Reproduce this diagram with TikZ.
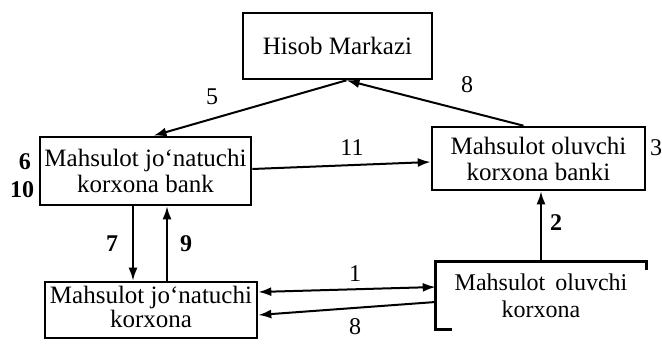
\documentclass[tikz,border=0pt]{standalone}
\usepackage{fontspec}
\setmainfont{Liberation Serif}
\usetikzlibrary{arrows.meta,calc}
\begin{document}
\begin{tikzpicture}[x=1pt,y=-1pt,
  box/.style={draw,line width=2.6pt,inner sep=0pt,align=center,
    font=\fontsize{25}{26}\selectfont},
  arr/.style={line width=2pt,-{Latex[length=13pt,width=9pt]}},
  darr/.style={line width=2pt,{Latex[length=13pt,width=9pt]}-{Latex[length=13pt,width=9pt]}},
  num/.style={inner sep=0pt,font=\fontsize{24}{24}\selectfont},
  bnum/.style={inner sep=0pt,font=\fontsize{24}{24}\selectfont\bfseries}]
\useasboundingbox (0,0) rectangle (662,344);
% boxes
\node[box,minimum width=189pt,minimum height=66pt] (hisob) at (337.5,46) {Hisob Markazi};
\node[box,minimum width=211pt,minimum height=68pt] (lbank) at (145.5,171) {Mahsulot jo‘natuchi\\korxona bank};
\node[box,minimum width=213pt,minimum height=63pt] (rbank) at (538.5,158.5) {Mahsulot oluvchi\\korxona banki};
\node[box,minimum width=212pt,minimum height=56pt] (lcorp) at (151,310) {\raisebox{5pt}{\begin{tabular}{@{}c@{}}Mahsulot jo‘natuchi\\[-2pt]korxona\end{tabular}}};
\node[box,draw=none,font=\fontsize{24}{27}\selectfont,minimum width=208pt,minimum height=65pt] (rcorp) at (541,295.5) {Mahsulot\, oluvchi\\korxona};
% partial frame of the bottom-right box
\draw[line width=2.6pt] ($(rcorp.north east)+(0,8)$) -- (rcorp.north east) -- (rcorp.north west) -- (rcorp.south west) -- ++(16,0);
% connectors
\draw[arr] ($(hisob.south)+(9,0)$) -- ($(lbank.north)+(8,0)$);
\draw[arr] ($(rbank.north)+(-15,0)$) -- ($(hisob.south)+(9,0)$);
\draw[arr] ($(lbank.east)+(0,-2)$) -- ($(rbank.west)+(0,3.5)$);
\coordinate (s7) at ($(lbank.south)+(-12.5,0)$);
\coordinate (s9) at ($(lbank.south)+(21.5,0)$);
\draw[arr] (s7) -- (s7 |- lcorp.north);
\draw[arr] (s9 |- lcorp.north) -- (s9);
\draw[arr] (rcorp.north) -- (rcorp.north |- rbank.south);
\draw[darr] ($(lcorp.east)+(0,-18)$) -- ($(rcorp.west)+(0,-8.5)$);
\draw[arr] ($(rcorp.west)+(0,6.5)$) -- ($(lcorp.east)+(0,5)$);
% labels
\node[num] (l5) at (212,97) {5};
\node[num] (l8a) at (467,85) {8};
\node[num] (l11) at (352,148) {11};
\node[bnum] (l6) at (25,162) {6};
\node[bnum] (l10) at (22,190) {10};
\node[num] (l3) at (656,148) {3};
\node[bnum] (l7) at (112,244) {7};
\node[bnum] (l9) at (186,244) {9};
\node[bnum] (l2) at (556,223) {2};
\node[num] (l1) at (355,274) {1};
\node[num] (l8b) at (355,327) {8};
\end{tikzpicture}
\end{document}
